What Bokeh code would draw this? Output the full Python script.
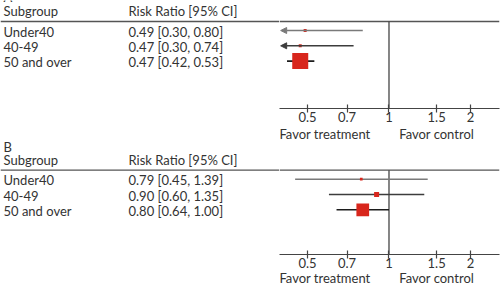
from bokeh.plotting import figure
from bokeh.layouts import column, row
from bokeh.models import (Range1d, Arrow, NormalHead, FixedTicker, Spacer,
                          NumeralTickFormatter, ColumnDataSource)
from bokeh.core.properties import value
from bokeh.embed import file_html
from bokeh.resources import INLINE

# Subgroup estimates (risk ratio with 95% CI) and study weights (%)
subgroups = ["Under40", "40-49", "50 and over"]

rr_a = [0.49, 0.47, 0.47]
lo_a = [0.30, 0.30, 0.42]
hi_a = [0.80, 0.74, 0.53]
w_a = [3.3, 3.3, 93.4]

rr_b = [0.79, 0.90, 0.80]
lo_b = [0.45, 0.60, 0.64]
hi_b = [1.39, 1.35, 1.00]
w_b = [3.8, 12.9, 83.3]

tick_values = [0.5, 0.7, 1, 1.5, 2]
side_labels = ["Favor treatment", "Favor control"]
side_label_x = [0.58, 1.5]
x_lo, x_hi = 0.394, 2.56

FONT = "Lato"
FS = "13px"
TXT = "#333333"
RED = "#d8261c"
ROW_COLORS = ["#7a7a7a", "#3c3c3c", "#1c1c1c"]
TABLE_W, FOREST_W = 279, 223
AXIS_BORDER = 22     # room under the forest frame for ticks and tick labels
OVERLAP = 10         # direction-label strip slides up under the tick labels


def bare(fig):
    fig.xgrid.visible = False
    fig.ygrid.visible = False
    return fig


def panel(letter, letter_y, rr, lo, hi, w, header_y, axis_y, strip_h, strip_y,
          box_max):
    H = axis_y + AXIS_BORDER
    row_y = [header_y + 9 + 15.3 * i for i in range(len(subgroups))]
    yr = Range1d(axis_y, 0)
    xr = Range1d(x_lo, x_hi)

    # ---- left: text table ----
    t = bare(figure(width=TABLE_W, height=H, x_range=Range1d(0, TABLE_W), y_range=yr,
                    min_border_left=0, min_border_right=0, min_border_top=0,
                    min_border_bottom=AXIS_BORDER, toolbar_location=None,
                    output_backend="svg", x_axis_location=None,
                    y_axis_location=None, outline_line_color=None))

    t.text(x=[3], y=[letter_y], text=[letter], text_font=value(FONT),
           text_font_size=FS, text_color=TXT, text_baseline="middle")
    t.text(x=[3, 128], y=[header_y - 10.5] * 2,
           text=["Subgroup", "Risk Ratio [95% CI]"], text_font=value(FONT),
           text_font_size=FS, text_color=TXT, text_baseline="middle")
    t.segment(x0=[0], y0=[header_y], x1=[TABLE_W], y1=[header_y],
              line_color="#555555", line_width=1.3)

    labels = [f"{r:.2f} [{l:.2f}, {h:.2f}]" for r, l, h in zip(rr, lo, hi)]
    src = ColumnDataSource(dict(name=subgroups, est=labels, y=[v + 1 for v in row_y]))
    for xpos, col in ((3, "name"), (128, "est")):
        t.text(x=xpos, y="y", text=col, source=src, text_font=value(FONT),
               text_font_size=FS, text_color=TXT, text_baseline="middle")

    # ---- right: forest plot ----
    f = bare(figure(width=FOREST_W, height=H, x_axis_type="log", x_range=xr,
                    y_range=yr, min_border_left=0, min_border_right=3,
                    min_border_top=0, min_border_bottom=AXIS_BORDER,
                    toolbar_location=None, output_backend="svg",
                    y_axis_location=None, outline_line_color=None))

    ax = f.xaxis[0]
    ax.ticker = FixedTicker(ticks=tick_values, minor_ticks=[])
    ax.formatter = NumeralTickFormatter(format="0.[0]")
    ax.axis_line_color = "#444444"
    ax.axis_line_width = 1.2
    ax.major_tick_line_color = "#444444"
    ax.major_tick_line_width = 1.2
    ax.major_tick_in = 4
    ax.major_tick_out = 4
    ax.minor_tick_line_color = None
    ax.major_label_standoff = -1
    ax.major_label_text_font = FONT
    ax.major_label_text_font_size = FS
    ax.major_label_text_color = TXT

    f.segment(x0=[x_lo], y0=[header_y], x1=[x_hi], y1=[header_y],
              line_color="#555555", line_width=1.3)
    f.segment(x0=[1], y0=[header_y], x1=[1], y1=[axis_y],
              line_color="#444444", line_width=1.3)

    for r, l, h, y, c in zip(rr, lo, hi, row_y, ROW_COLORS):
        if l < x_lo:
            f.add_layout(Arrow(end=NormalHead(size=6, fill_color=c, line_color=c),
                               x_start=h, y_start=y, x_end=x_lo * 1.01, y_end=y,
                               line_color=c, line_width=1.6))
        else:
            f.segment(x0=[l], y0=[y], x1=[min(h, x_hi)], y1=[y],
                      line_color=c, line_width=1.6)

    wmax = max(w)
    sizes = [box_max * (wi / wmax) ** 0.5 for wi in w]
    f.scatter(x=rr, y=row_y, size=sizes, marker="square",
              fill_color=RED, line_color=None)

    # ---- direction labels under the axis ----
    s = bare(figure(width=FOREST_W, height=strip_h, x_axis_type="log", x_range=xr,
                    y_range=Range1d(strip_h, 0), min_border=0, min_border_right=3,
                    toolbar_location=None, output_backend="svg",
                    x_axis_location=None, y_axis_location=None,
                    outline_line_color=None, background_fill_color=None,
                    border_fill_color=None))
    s.text(x=side_label_x, y=[strip_y] * 2, text=side_labels,
           text_font=value(FONT), text_font_size=FS, text_color=TXT,
           text_align="center", text_baseline="middle")

    top = row(t, f)
    bottom = row(Spacer(width=TABLE_W, height=strip_h), s,
                 margin=(-OVERLAP, 0, 0, 0))
    return column(top, bottom)


pa = panel("A", -3.7, rr_a, lo_a, hi_a, w_a, header_y=21, axis_y=108,
           strip_h=20, strip_y=13.5, box_max=16)
pb = panel("B", 6.3, rr_b, lo_b, hi_b, w_b, header_y=29.7, axis_y=114,
           strip_h=18, strip_y=11.5, box_max=12.7)

p = column(pa, pb)
open("out.html", "w").write(file_html(p, INLINE))
